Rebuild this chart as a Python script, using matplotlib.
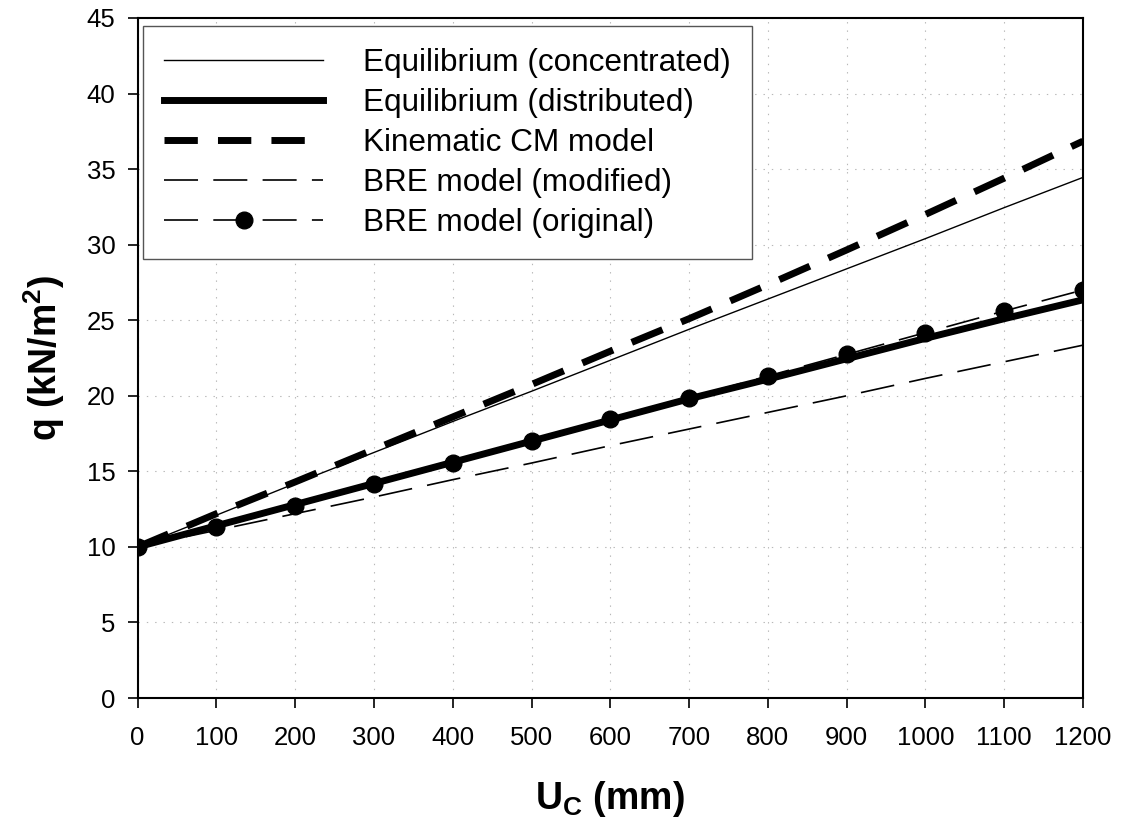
import numpy as np
import matplotlib.pyplot as plt

plt.rcParams['font.family'] = ['Liberation Sans', 'DejaVu Sans']
plt.rcParams['mathtext.fontset'] = 'custom'
plt.rcParams['mathtext.rm'] = 'Liberation Sans'
plt.rcParams['mathtext.bf'] = 'Liberation Sans:bold'
plt.rcParams['lines.scale_dashes'] = False

# central deflection U_c (mm)
uc = [0, 100, 200, 300, 400, 500, 600, 700, 800, 900, 1000, 1100, 1200]

# load q (kN/m2) for each model
q_conc = [10.0, 12.1, 14.2, 16.25, 18.3, 20.3, 22.35, 24.4, 26.4, 28.4, 30.4, 32.45, 34.45]
q_dist = [10.0, 11.4, 12.8, 14.2, 15.6, 17.0, 18.4, 19.8, 21.1, 22.45, 23.8, 25.1, 26.35]
q_kin = [10.0, 12.2, 14.3, 16.45, 18.6, 20.75, 22.95, 25.1, 27.35, 29.65, 32.0, 34.4, 36.85]
q_bre_mod = [10.0, 11.1, 12.2, 13.3, 14.45, 15.55, 16.7, 17.8, 18.9, 20.0, 21.15, 22.25, 23.35]
q_bre_orig = [10.0, 11.3, 12.7, 14.15, 15.57, 17.03, 18.44, 19.87, 21.31, 22.74, 24.18, 25.61, 27.0]

labels = ['Equilibrium (concentrated)', 'Equilibrium (distributed)',
          'Kinematic CM model', 'BRE model (modified)', 'BRE model (original)']

fig = plt.figure(figsize=(11.22, 8.25), dpi=100)
ax = fig.add_axes([0.1227, 0.1539, 0.8425, 0.8243])

ax.plot(uc, q_conc, color='k', lw=1.0, label=labels[0])
ax.plot(uc, q_dist, color='k', lw=5.0, label=labels[1])
ax.plot(uc, q_kin, color='k', lw=5.0, ls=(0, (24, 14.5)), label=labels[2])
ax.plot(uc, q_bre_mod, color='k', lw=1.2, ls=(0, (24.5, 11)), label=labels[3])
ax.plot(uc, q_bre_orig, color='k', lw=1.2, ls=(0, (24.5, 11)), marker='o', ms=12,
        label=labels[4])

leg = ax.legend(loc='upper left', bbox_to_anchor=(0.0056, 0.988),
                borderaxespad=0, fontsize=22.7, fancybox=False, framealpha=1,
                edgecolor='#555555', handlelength=5.04, handletextpad=1.26,
                labelspacing=0.32, borderpad=0.68, numpoints=1)
leg.get_frame().set_linewidth(1.0)

ax.set_xlim(0, 1200)
ax.set_ylim(0, 45)
ax.set_xticks(np.arange(0, 1201, 100))
ax.set_yticks(np.arange(0, 46, 5))
ax.tick_params(direction='out', length=7, width=1.2, labelsize=18.5)
ax.tick_params(axis='x', pad=13)
ax.tick_params(axis='y', pad=9)
for s in ax.spines.values():
    s.set_linewidth(1.5)

ax.grid(True, color='#b8b8b8', ls=(0, (1, 5)), lw=0.8)
ax.set_axisbelow(True)

ax.set_xlabel(r'$\mathbf{U_C}$ (mm)', fontsize=27, fontweight='bold', labelpad=21)
ax.set_ylabel(r'q (kN/m$^\mathbf{2}$)', fontsize=27, fontweight='bold', labelpad=14)

plt.savefig('out.png', dpi=100)
